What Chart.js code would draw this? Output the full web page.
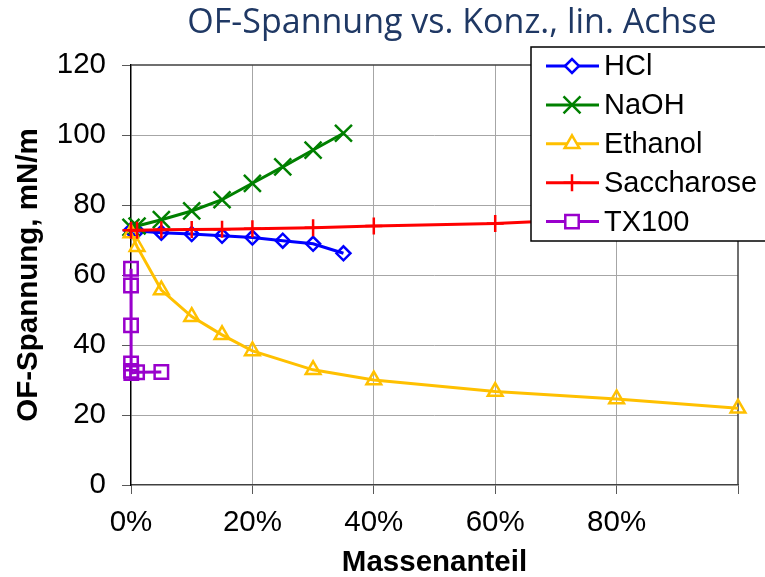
<!DOCTYPE html>
<html>
<head>
<meta charset="utf-8">
<script src="https://cdn.jsdelivr.net/npm/chart.js@4/dist/chart.umd.min.js"></script>
<style>
  html, body { margin: 0; padding: 0; background: #fff; }
  #wrap { width: 765px; height: 577px; position: relative; }
</style>
</head>
<body>
<div id="wrap"><canvas id="grafico"></canvas></div>
<script>
// Massenanteil (Anteil 0..1) und OF-Spannung in mN/m
const hclX = [0, 0.01, 0.05, 0.10, 0.15, 0.20, 0.25, 0.30, 0.35];
const hclY = [72.8, 72.6, 72.1, 71.7, 71.2, 70.7, 69.8, 68.9, 66.2];

const naohX = [0, 0.01, 0.05, 0.10, 0.15, 0.20, 0.25, 0.30, 0.35];
const naohY = [73.6, 74.0, 75.8, 78.3, 81.5, 86.2, 90.9, 95.7, 100.5];

const ethanolX = [0, 0.01, 0.05, 0.10, 0.15, 0.20, 0.30, 0.40, 0.60, 0.80, 1.00];
const ethanolY = [72.0, 68.1, 55.7, 48.1, 42.9, 38.3, 32.9, 30.0, 26.7, 24.6, 21.9];

const saccharoseX = [0, 0.01, 0.05, 0.10, 0.15, 0.20, 0.30, 0.40, 0.60, 0.80];
const saccharoseY = [72.8, 72.8, 72.9, 73.0, 73.1, 73.2, 73.5, 74.0, 74.7, 76.3];

const tx100X = [0.00001, 0.00002, 0.00005, 0.0001, 0.0002, 0.0005, 0.01, 0.05];
const tx100Y = [61.8, 57.0, 45.6, 34.7, 32.6, 32.0, 32.2, 32.3];

const xTickLabels = ['0%', '20%', '40%', '60%', '80%', ''];
const serienNamen = ['HCl', 'NaOH', 'Ethanol', 'Saccharose', 'TX100'];
const titelText = 'OF-Spannung vs. Konz., lin. Achse';

const paare = (xs, ys) => xs.map((x, i) => ({ x: x, y: ys[i] }));

const farben = ['#0000FF', '#008000', '#FFC000', '#FF0000', '#9900CC'];
const formen = ['rectRot', 'crossRot', 'triangle', 'cross', 'rect'];
const radien = [7, 12, 8.5, 8.5, 9.5];
const werte = [
    paare(hclX, hclY), paare(naohX, naohY), paare(ethanolX, ethanolY),
    paare(saccharoseX, saccharoseY), paare(tx100X, tx100Y)
];

const datasets = serienNamen.map((name, i) => ({
    label: name,
    data: werte[i],
    borderColor: farben[i],
    backgroundColor: farben[i],
    borderWidth: 3,
    pointStyle: formen[i],
    pointRadius: radien[i],
    pointBorderWidth: 2.5,
    pointBorderColor: farben[i],
    pointBackgroundColor: 'rgba(0,0,0,0)',
    tension: 0,
    clip: false,
    order: 5 - i
}));

// Titel, Rahmen oben/rechts
const rahmenPlugin = {
    id: 'rahmen',
    beforeDatasetsDraw(chart) {
        const { ctx, chartArea: a } = chart;
        ctx.save();
        ctx.strokeStyle = '#404040';
        ctx.lineWidth = 1.5;
        ctx.beginPath();
        ctx.moveTo(a.left, a.top);
        ctx.lineTo(a.right, a.top);
        ctx.lineTo(a.right, a.bottom);
        ctx.stroke();
        ctx.restore();
    },
    afterDraw(chart) {
        const ctx = chart.ctx;
        ctx.save();
        ctx.fillStyle = '#1F3864';
        ctx.font = '34px "Open Sans", sans-serif';
        ctx.textAlign = 'center';
        ctx.textBaseline = 'middle';
        ctx.fillText(titelText, 452, 23);
        ctx.restore();
    }
};

// Legende im Diagramm, wie im Original über der Kurve
const legendePlugin = {
    id: 'legende',
    afterDraw(chart) {
        const ctx = chart.ctx;
        const boxX = 531, boxY = 47, boxW = 260, boxH = 194;
        ctx.save();
        ctx.fillStyle = '#fff';
        ctx.fillRect(boxX, boxY, boxW, boxH);
        ctx.strokeStyle = '#000';
        ctx.lineWidth = 1.5;
        ctx.strokeRect(boxX, boxY, boxW, boxH);
        ctx.font = '29px "Liberation Sans", Arial, sans-serif';
        ctx.textBaseline = 'middle';
        chart.data.datasets.forEach((ds, i) => {
            const y = 66 + i * 38.9;
            ctx.strokeStyle = ds.borderColor;
            ctx.lineWidth = 3;
            ctx.beginPath();
            ctx.moveTo(546, y);
            ctx.lineTo(599, y);
            ctx.stroke();
            ctx.lineWidth = 2.5;
            ctx.fillStyle = '#fff';
            Chart.helpers.drawPoint(ctx, {
                pointStyle: ds.pointStyle,
                radius: ds.pointRadius,
                rotation: 0,
                borderWidth: 2.5
            }, 572, y);
            ctx.fillStyle = '#000';
            ctx.fillText(ds.label, 604, y + 1);
        });
        ctx.restore();
    }
};

const tickFont = { family: '"Liberation Sans", Arial, sans-serif', size: 29.5 };
const titelFont = { family: '"Liberation Sans", Arial, sans-serif', size: 29.5, weight: 'bold' };

new Chart(document.getElementById('grafico'), {
    type: 'line',
    data: { datasets: datasets },
    options: {
        responsive: true,
        maintainAspectRatio: false,
        animation: false,
        layout: { padding: { left: 0, right: 27, top: 65, bottom: 0 } },
        plugins: {
            legend: { display: false },
            tooltip: { enabled: false },
            title: { display: false }
        },
        scales: {
            x: {
                type: 'linear',
                min: 0,
                max: 1,
                afterFit: s => { s.height = 92; },
                ticks: {
                    stepSize: 0.2,
                    color: '#000',
                    font: tickFont,
                    padding: 11,
                    callback: (v, i) => xTickLabels[i]
                },
                grid: {
                    color: c => (c.tick && c.tick.value > 0 && c.tick.value < 1) ? '#A6A6A6' : 'rgba(0,0,0,0)',
                    borderDash: [2, 2],
                    lineWidth: 1,
                    tickLength: 9,
                    tickColor: '#595959',
                    tickBorderDash: []
                },
                border: { display: true, color: '#404040', width: 1.5 },
                title: {
                    display: true,
                    text: 'Massenanteil',
                    color: '#000',
                    font: titelFont,
                    padding: { top: 0, bottom: -4 }
                }
            },
            y: {
                min: 0,
                max: 120,
                afterFit: s => { s.width = 131; },
                ticks: {
                    stepSize: 20,
                    color: '#000',
                    font: tickFont,
                    padding: 16
                },
                grid: {
                    color: c => (c.tick && c.tick.value > 0 && c.tick.value < 120) ? '#A6A6A6' : 'rgba(0,0,0,0)',
                    borderDash: [2, 2],
                    lineWidth: 1,
                    tickLength: 9,
                    tickColor: '#595959',
                    tickBorderDash: []
                },
                border: { display: true, color: '#000', width: 1.5 },
                title: {
                    display: true,
                    text: 'OF-Spannung, mN/m',
                    color: '#000',
                    font: titelFont,
                    padding: { top: 11, bottom: 0 }
                }
            }
        }
    },
    plugins: [rahmenPlugin, legendePlugin]
});
</script>
</body>
</html>
